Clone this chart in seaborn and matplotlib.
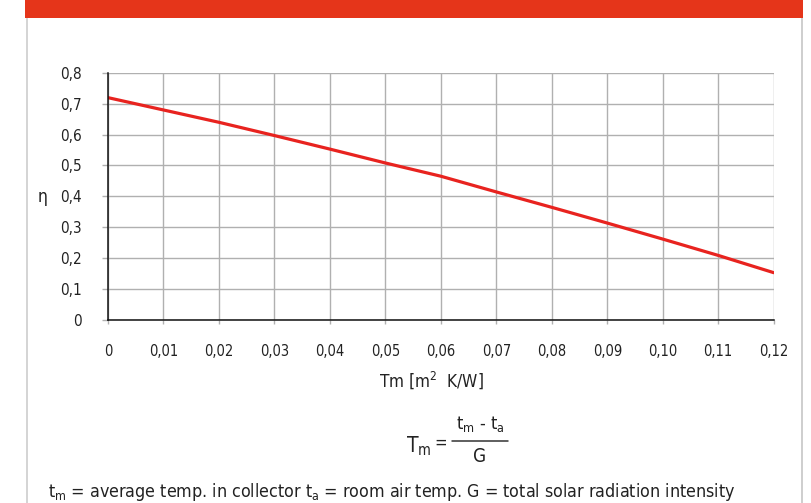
import seaborn as sns
import matplotlib.pyplot as plt
import pandas as pd
from matplotlib.patches import Rectangle
from matplotlib.lines import Line2D

# data
tm = [0, 0.01, 0.02, 0.03, 0.04, 0.05, 0.06, 0.07, 0.08, 0.09, 0.10, 0.11, 0.12]
eta = [0.72, 0.68, 0.64, 0.597, 0.553, 0.508, 0.465, 0.414, 0.364, 0.313, 0.261, 0.208, 0.152]

x_ticks = [0, 0.01, 0.02, 0.03, 0.04, 0.05, 0.06, 0.07, 0.08, 0.09, 0.10, 0.11, 0.12]
x_tick_labels = ['0', '0,01', '0,02', '0,03', '0,04', '0,05', '0,06', '0,07', '0,08', '0,09', '0,10', '0,11', '0,12']
y_ticks = [0, 0.1, 0.2, 0.3, 0.4, 0.5, 0.6, 0.7, 0.8]
y_tick_labels = ['0', '0,1', '0,2', '0,3', '0,4', '0,5', '0,6', '0,7', '0,8']

df = pd.DataFrame({'Tm': tm, 'eta': eta})

sns.set_theme(style='whitegrid')
plt.rcParams['font.family'] = ['DejaVu Sans']
plt.rcParams['font.stretch'] = 'condensed'
plt.rcParams['mathtext.default'] = 'regular'

W, H = 811, 503
fig = plt.figure(figsize=(W / 100, H / 100), dpi=100)
fig.patch.set_facecolor('white')

# red header bar and panel border
fig.add_artist(Rectangle((25 / W, 1 - 17.5 / H), 778 / W, 17.5 / H, transform=fig.transFigure,
                         color='#e5351a', lw=0))
fig.add_artist(Rectangle((26 / W, 0), 2 / W, 1 - 17.5 / H, transform=fig.transFigure,
                         color='#d5d5d5', lw=0))
fig.add_artist(Rectangle((800.5 / W, 0), 2.5 / W, 1 - 17.5 / H, transform=fig.transFigure,
                         color='#cfcfcf', lw=0))

ax = fig.add_axes([108 / W, 1 - 319.5 / H, 665.7 / W, 246.5 / H])
sns.lineplot(data=df, x='Tm', y='eta', ax=ax, color='#e8231f', linewidth=2.3)

ax.set_xlim(0, 0.12)
ax.set_ylim(0, 0.8)
ax.set_xticks(x_ticks)
ax.set_xticklabels(x_tick_labels)
ax.set_yticks(y_ticks)
ax.set_yticklabels(y_tick_labels)
ax.grid(True, color='#b0b0b0', linewidth=1)
ax.set_facecolor('white')

for side in ['top', 'right']:
    ax.spines[side].set_visible(False)
ax.spines['left'].set_color('#111111')
ax.spines['bottom'].set_color('#111111')
ax.spines['left'].set_linewidth(1.1)
ax.spines['bottom'].set_linewidth(1.1)
ax.spines['left'].set_zorder(3)
ax.spines['bottom'].set_zorder(3)

ax.tick_params(axis='y', length=4, width=1, color='#b0b0b0', pad=15, labelsize=11, labelcolor='#222222')
ax.tick_params(axis='x', length=3, width=1, color='#b0b0b0', pad=15, labelsize=10.5, labelcolor='#222222')
ax.tick_params(left=True, bottom=True)

ax.set_xlabel('')
ax.set_ylabel('')

fig.text(43 / W, 1 - 197 / H, 'η', fontsize=12.5, ha='center', va='center', color='#222222')
fig.text(431 / W, 1 - 380 / H, 'Tm [m$^2$  K/W]', fontsize=12.3, ha='center', va='center', color='#222222')

# formula
fig.text(419 / W, 1 - 446 / H, 'T$_{m}$', fontsize=15, ha='center', va='center', color='#222222')
fig.text(441 / W, 1 - 443 / H, '=', fontsize=12, ha='center', va='center', color='#222222')
fig.text(480 / W, 1 - 424 / H, 't$_{m}$ - t$_{a}$', fontsize=13, ha='center', va='center', color='#222222')
fig.text(480 / W, 1 - 456 / H, 'G', fontsize=13.5, ha='center', va='center', color='#222222')
fig.add_artist(Line2D([452 / W, 508 / W], [1 - 441 / H, 1 - 441 / H], transform=fig.transFigure,
                      color='#333333', lw=1.1))

fig.text(48 / W, 1 - 492 / H,
         't$_{m}$ = average temp. in collector t$_{a}$ = room air temp. G = total solar radiation intensity',
         fontsize=12.8, ha='left', va='center', color='#222222')

fig.savefig('out.png', dpi=100, facecolor='white')
